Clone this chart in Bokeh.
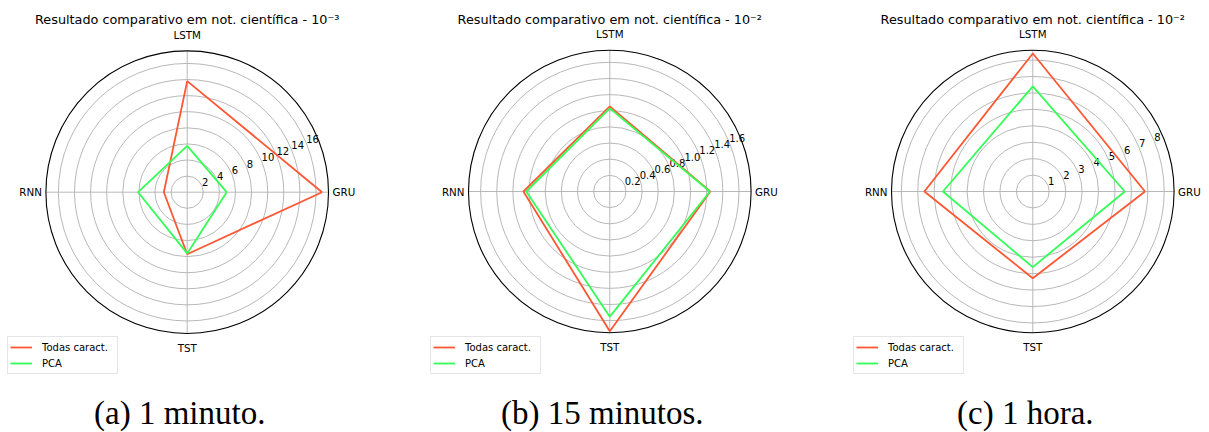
import numpy as np
from bokeh.plotting import figure
from bokeh.layouts import row
from bokeh.models import Range1d, Label, Legend, LegendItem
from bokeh.core.properties import value
from bokeh.embed import file_html
from bokeh.resources import INLINE

# ---------------- data ----------------
categories = ["GRU", "LSTM", "RNN", "TST"]

a_todas = [16.75, 13.8, 2.9, 7.7]
a_pca = [4.9, 5.75, 6.1, 7.6]
a_ticks = [2, 4, 6, 8, 10, 12, 14, 16]
a_tick_labels = ["2", "4", "6", "8", "10", "12", "14", "16"]
a_rmax = 17.55

b_todas = [1.245, 1.055, 1.07, 1.73]
b_pca = [1.24, 1.03, 1.035, 1.55]
b_ticks = [0.2, 0.4, 0.6, 0.8, 1.0, 1.2, 1.4, 1.6]
b_tick_labels = ["0.2", "0.4", "0.6", "0.8", "1.0", "1.2", "1.4", "1.6"]
b_rmax = 1.75

c_todas = [6.83, 8.4, 6.6, 5.28]
c_pca = [5.6, 6.4, 5.47, 4.6]
c_ticks = [1, 2, 3, 4, 5, 6, 7, 8]
c_tick_labels = ["1", "2", "3", "4", "5", "6", "7", "8"]
c_rmax = 8.6

titles = ["Resultado comparativo em not. científica - 10\u207b\u00b3",
          "Resultado comparativo em not. científica - 10\u207b\u00b2",
          "Resultado comparativo em not. científica - 10\u207b\u00b2"]
captions = ["(a) 1 minuto.", "(b) 15 minutos.", "(c) 1 hora."]
series_names = ["Todas caract.", "PCA"]

RED = "#FF5733"
GREEN = "#33FF57"
GRID = "#b0b0b0"
FONT = "DejaVu Sans"
H = 432


def radar(width, cx, cy, rmax, ticks, tick_labels, todas, pca, title, caption, legend_x):
    scale = 141.3 / rmax  # px per unit (outer circle radius ~141 px)
    p = figure(width=width, height=H, output_backend="svg", toolbar_location=None,
               x_range=Range1d(-cx / scale, (width - cx) / scale),
               y_range=Range1d(-(H - cy) / scale, cy / scale),
               min_border=0, outline_line_color=None,
               x_axis_type=None, y_axis_type=None)
    p.background_fill_color = "white"
    p.border_fill_color = "white"

    ang = np.deg2rad([0, 90, 180, 270])
    t = np.array(ticks, dtype=float)

    # rings
    p.circle(x=[0] * len(t), y=[0] * len(t), radius=list(t),
             fill_color=None, line_color=GRID, line_width=0.9)
    # spokes
    p.multi_line(xs=[[0, rmax * np.cos(a)] for a in ang],
                 ys=[[0, rmax * np.sin(a)] for a in ang],
                 line_color=GRID, line_width=0.9)
    # outer circle
    p.circle(x=[0], y=[0], radius=[rmax], fill_color=None,
             line_color="black", line_width=1.1)

    # radial tick labels at 22.5 deg
    la = np.deg2rad(22.5)
    p.text(x=list(t * np.cos(la)), y=list(t * np.sin(la)), text=tick_labels,
           text_align="left", text_baseline="bottom",
           text_font=value(FONT), text_font_size="10px", text_color="black")

    # category labels
    ox = [4, 0, -4, 0]
    oy = [0, -16, 0, 14]
    al = ["left", "center", "right", "center"]
    for i, cat in enumerate(categories):
        p.text(x=[rmax * np.cos(ang[i])], y=[rmax * np.sin(ang[i])], text=[cat],
               x_offset=ox[i], y_offset=oy[i], text_align=al[i],
               text_baseline="middle", text_font=value(FONT),
               text_font_size="10.3px", text_color="black")

    # series
    th = list(ang) + [ang[0]]
    tv = list(todas) + [todas[0]]
    pv = list(pca) + [pca[0]]
    r1 = p.line([v * np.cos(a) for v, a in zip(tv, th)],
                [v * np.sin(a) for v, a in zip(tv, th)],
                line_color=RED, line_width=1.8)
    r2 = p.line([v * np.cos(a) for v, a in zip(pv, th)],
                [v * np.sin(a) for v, a in zip(pv, th)],
                line_color=GREEN, line_width=1.8)

    # title
    p.add_layout(Label(x=cx, y=H - 19, x_units="screen", y_units="screen",
                       text=title, text_align="center", text_baseline="alphabetic",
                       text_font=FONT, text_font_size="12.8px", text_color="black"))
    # caption
    p.add_layout(Label(x=cx - 7.5, y=H - 412, x_units="screen", y_units="screen",
                       text=caption, text_align="center", text_baseline="alphabetic",
                       text_font="Liberation Serif", text_font_size="33px",
                       text_color="black"))

    legend = Legend(items=[LegendItem(label=series_names[0], renderers=[r1]),
                           LegendItem(label=series_names[1], renderers=[r2])],
                    location=(legend_x, H - 374), margin=0, padding=2, spacing=0,
                    glyph_width=22, glyph_height=16, label_height=16,
                    label_width=73, label_standoff=10, label_text_font=FONT,
                    label_text_font_size="10px", label_text_color="black",
                    border_line_color="#cccccc", border_line_width=1,
                    background_fill_color="white", background_fill_alpha=0.8)
    p.add_layout(legend)
    return p


pa = radar(398, 186.7, 191.7, a_rmax, a_ticks, a_tick_labels, a_todas, a_pca,
           titles[0], captions[0], 7)
pb = radar(423, 211.3, 191.0, b_rmax, b_ticks, b_tick_labels, b_todas, b_pca,
           titles[1], captions[1], 32)
pc = radar(388, 211.3, 191.0, c_rmax, c_ticks, c_tick_labels, c_todas, c_pca,
           titles[2], captions[2], 32)

layout = row(pa, pb, pc)
open("out.html", "w").write(file_html(layout, INLINE))
